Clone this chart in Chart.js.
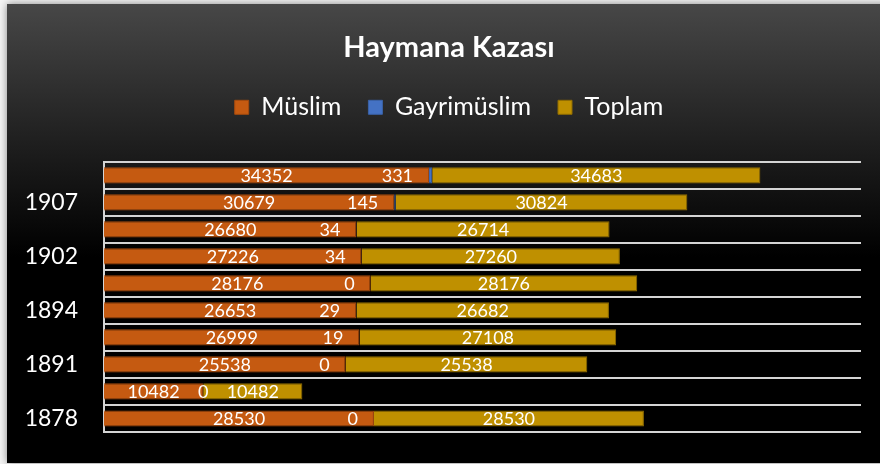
<!DOCTYPE html>
<html>
<head>
<meta charset="utf-8">
<script src="https://cdn.jsdelivr.net/npm/chart.js@4.4.1/dist/chart.umd.min.js"></script>
<style>
  html, body { margin: 0; padding: 0; background: #ffffff; }
  #wrap { position: relative; width: 880px; height: 464px; }
</style>
</head>
<body>
<div id="wrap"><canvas id="c" width="880" height="464"></canvas></div>
<script>
// Categories, bottom to top (as in the source chart)
const years = ['1878', '1882', '1891', '1892', '1894', '1899', '1902', '1903', '1907', '1908'];
const muslim = [28530, 10482, 25538, 26999, 26653, 28176, 27226, 26680, 30679, 34352];
const gayrimuslim = [0, 0, 0, 19, 29, 0, 34, 34, 145, 331];
const toplam = [28530, 10482, 25538, 27108, 26682, 28176, 27260, 26714, 30824, 34683];
const seriesNames = ['Müslim', 'Gayrimüslim', 'Toplam'];
const titleText = 'Haymana Kazası';

const FONT = 'Lato';
const LABEL_FONT = '18px ' + FONT;

const bgPlugin = {
  id: 'bg',
  beforeDraw(chart) {
    const ctx = chart.ctx;
    const W = chart.width, H = chart.height;
    ctx.save();
    ctx.fillStyle = '#f4f4f4';
    ctx.fillRect(0, 0, W, H);
    const x0 = 7, y0 = 4;
    ctx.shadowColor = 'rgba(0,0,0,0.45)';
    ctx.shadowBlur = 8;
    const g = ctx.createLinearGradient(0, y0, 0, H);
    g.addColorStop(0, '#474747');
    g.addColorStop(0.3, '#1f1f1f');
    g.addColorStop(0.55, '#000000');
    g.addColorStop(1, '#000000');
    ctx.fillStyle = g;
    ctx.fillRect(x0, y0, W - x0 + 10, H - y0 - 1);
    ctx.restore();
  }
};

const legendSpace = {
  id: 'legendSpace',
  beforeInit(chart) {
    const orig = chart.legend.fit;
    chart.legend.fit = function () {
      orig.bind(chart.legend)();
      this.height += 32;
    };
  }
};

const valueLabels = {
  id: 'valueLabels',
  afterDatasetsDraw(chart) {
    const ctx = chart.ctx;
    ctx.save();
    ctx.font = LABEL_FONT;
    ctx.fillStyle = '#ffffff';
    ctx.textBaseline = 'middle';
    const m0 = chart.getDatasetMeta(0);
    chart.data.datasets.forEach((ds, di) => {
      const meta = chart.getDatasetMeta(di);
      meta.data.forEach((bar, i) => {
        const txt = String(ds.data[i]);
        if (di === 1) {
          const w = ctx.measureText(txt).width;
          const prev = m0.data[i];
          const prevTxt = String(chart.data.datasets[0].data[i]);
          const prevRight = (prev.base + prev.x) / 2 + ctx.measureText(prevTxt).width / 2;
          let right = bar.base - 16;
          if (right - w < prevRight + 6) right = bar.base + w / 2;
          ctx.textAlign = 'right';
          ctx.fillText(txt, right, bar.y + 1);
        } else {
          ctx.textAlign = 'center';
          ctx.fillText(txt, (bar.base + bar.x) / 2, bar.y + 1);
        }
      });
    });
    ctx.restore();
  }
};

new Chart(document.getElementById('c'), {
  type: 'bar',
  data: {
    labels: years,
    datasets: [
      { label: seriesNames[0], data: muslim, backgroundColor: '#C55A11', borderColor: '#A44A0E', borderWidth: 1 },
      { label: seriesNames[1], data: gayrimuslim, backgroundColor: '#4472C4', borderColor: '#3A62A8', borderWidth: 1 },
      { label: seriesNames[2], data: toplam, backgroundColor: '#BF9000', borderColor: '#8F6C00', borderWidth: 1 }
    ]
  },
  options: {
    indexAxis: 'y',
    responsive: false,
    animation: false,
    devicePixelRatio: 1,
    layout: { padding: { left: 37, right: 19, top: 0, bottom: 32 } },
    datasets: { bar: { barPercentage: 0.6, categoryPercentage: 1.0 } },
    scales: {
      x: { stacked: true, display: false, min: 0, max: 80000 },
      y: {
        stacked: true,
        reverse: true,
        afterFit(scale) {
          scale.width = 67;
          scale.paddingTop = 0;
          scale.paddingBottom = 0;
          scale._computeLabelArea = function () { return undefined; };
        },
        border: { display: true, color: '#d4d4d4', width: 2 },
        grid: { color: '#d4d4d4', lineWidth: 2, drawTicks: false, offset: true },
        ticks: {
          autoSkip: false,
          padding: 26,
          color: '#ffffff',
          font: { family: FONT, size: 23 },
          callback(value, index) { return index % 2 === 0 ? years[index] : ''; }
        }
      }
    },
    plugins: {
      title: {
        display: true,
        text: titleText,
        color: '#ffffff',
        font: { family: FONT, size: 29, weight: 'bold' },
        padding: { top: 30, bottom: 3 }
      },
      legend: {
        display: true,
        position: 'top',
        labels: {
          color: '#ffffff',
          font: { family: FONT, size: 25 },
          boxWidth: 14,
          boxHeight: 14,
          padding: 27
        }
      },
      tooltip: { enabled: false }
    }
  },
  plugins: [bgPlugin, legendSpace, valueLabels]
});
</script>
</body>
</html>
